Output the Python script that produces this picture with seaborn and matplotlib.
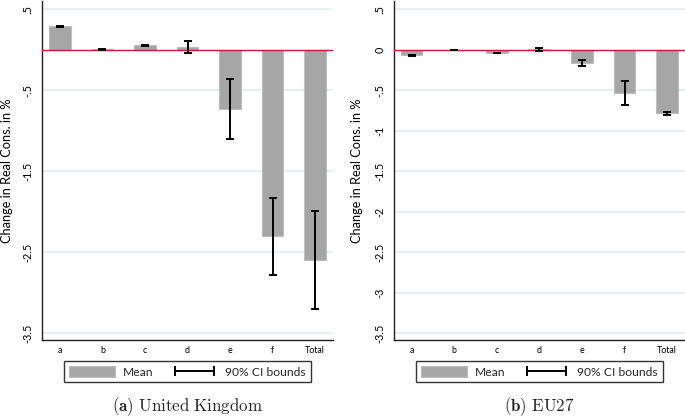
import numpy as np
import pandas as pd
import seaborn as sns
import matplotlib
matplotlib.use("Agg")
import matplotlib.pyplot as plt
from matplotlib.patches import Patch
from matplotlib.lines import Line2D

# ---------------- data ----------------
categories = ["a", "b", "c", "d", "e", "f", "Total"]

uk_mean = [0.29, 0.005, 0.055, 0.03, -0.73, -2.30, -2.60]
uk_lo = [0.285, -0.002, 0.045, -0.04, -1.10, -2.78, -3.20]
uk_hi = [0.295, 0.008, 0.065, 0.11, -0.36, -1.83, -1.99]

eu_mean = [-0.066, -0.004, -0.040, 0.005, -0.157, -0.535, -0.785]
eu_lo = [-0.072, -0.007, -0.045, -0.020, -0.195, -0.680, -0.805]
eu_hi = [-0.062, -0.002, -0.033, 0.020, -0.120, -0.380, -0.765]

uk_ticks = [0.5, -0.5, -1.5, -2.5, -3.5]
uk_ticklabels = [".5", "-.5", "-1.5", "-2.5", "-3.5"]
eu_ticks = [0.5, 0, -0.5, -1, -1.5, -2, -2.5, -3, -3.5]
eu_ticklabels = [".5", "0", "-.5", "-1", "-1.5", "-2", "-2.5", "-3", "-3.5"]

ylabel = "Change in Real Cons. in %"
captions = [r"$\mathbf{(a)}\ \mathrm{United\ Kingdom}$", r"$\mathbf{(b)}\ \mathrm{EU27}$"]
legend_labels = ["Mean", "90% CI bounds"]

# ---------------- style ----------------
sns.set_theme(style="white")
plt.rcParams["font.family"] = ["Lato", "DejaVu Sans"]
plt.rcParams["mathtext.fontset"] = "cm"

BAR = "#a6a6a6"
BAR_EDGE = "#bdbdbd"
GRID = "#e7eff1"
RED = "#d2143c"

W, H = 685, 417
fig = plt.figure(figsize=(W / 100, H / 100), dpi=100)

def px_axes(x0, y0, x1, y1):
    return fig.add_axes([x0 / W, 1 - y1 / H, (x1 - x0) / W, (y1 - y0) / H])

ax1 = px_axes(42, 1.3, 333, 340)
ax2 = px_axes(393.7, 1.3, 685, 340)

panels = [
    (ax1, uk_mean, uk_lo, uk_hi, uk_ticks, uk_ticklabels, 29),
    (ax2, eu_mean, eu_lo, eu_hi, eu_ticks, eu_ticklabels, 31),
]

for i, (ax, mean, lo, hi, ticks, tlabels, lab_off) in enumerate(panels):
    df = pd.DataFrame({"cat": categories, "mean": mean, "lo": lo, "hi": hi})
    sns.barplot(data=df, x="cat", y="mean", ax=ax, color=BAR, saturation=1,
                width=0.51, edgecolor=BAR_EDGE, linewidth=0.8, zorder=2)
    xs = np.arange(len(df))
    mid = (df["lo"] + df["hi"]) / 2
    half = (df["hi"] - df["lo"]) / 2
    ax.errorbar(xs, mid, yerr=half, fmt="none", ecolor="black",
                elinewidth=1.4, capsize=2.6, capthick=1.4, zorder=4)

    for t in ticks:
        if t != 0:
            ax.axhline(t, color=GRID, lw=1.6, zorder=0)
    ax.axhline(0, color=RED, lw=1.0, zorder=3)

    ax.set_xlim(-0.42, 6.42)
    ax.set_ylim(-3.587, 0.6)
    ax.set_yticks(ticks)
    ax.set_yticklabels(tlabels, rotation=90, va="center", fontsize=7.8)
    ax.tick_params(axis="y", length=4, width=0.8, pad=2, colors="black")
    ax.tick_params(axis="x", length=0, pad=4, labelsize=6.4, colors="black")
    ax.set_xlabel("")
    ax.set_ylabel(ylabel, fontsize=9.2, color="black")
    ax.yaxis.set_label_coords(-lab_off / 291, 0.5)

    for s in ["top", "right"]:
        ax.spines[s].set_visible(False)
    for s in ["left", "bottom"]:
        ax.spines[s].set_color("#222222")
        ax.spines[s].set_linewidth(1.0)

    handles = [
        Patch(facecolor=BAR, edgecolor=BAR_EDGE, linewidth=0.8),
        Line2D([], [], color="black", lw=1.4, marker="|", markersize=7,
               markeredgewidth=1.4),
    ]
    leg = ax.legend(handles, legend_labels, loc="upper center",
                    bbox_to_anchor=(0.5, -0.062), ncol=2, frameon=True,
                    fancybox=False, fontsize=8.7, handlelength=3.8,
                    handleheight=1.07, handletextpad=0.64, columnspacing=1.55,
                    borderpad=0.4, numpoints=2, borderaxespad=0)
    leg.get_frame().set_edgecolor("black")
    leg.get_frame().set_linewidth(1.0)

    bb = ax.get_position()
    fig.text(bb.x0 + bb.width / 2, 1 - 407 / H, captions[i], ha="center",
             va="center", fontsize=12.2)

fig.savefig("out.png", dpi=100)
